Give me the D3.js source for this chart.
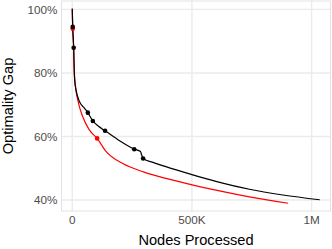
<!DOCTYPE html>
<html>
<head>
<meta charset="utf-8">
<script src="https://cdn.jsdelivr.net/npm/d3@7"></script>
<style>
  body { margin: 0; background: #fff; }
  text { font-family: "Liberation Sans", Arial, sans-serif; }
</style>
</head>
<body>
<svg id="chart" width="332" height="249"></svg>
<script>
// nodes processed (thousands) / optimality gap (%)
var blackNodes = [0, 2, 6, 8, 10, 16, 30, 50, 65, 86, 110, 137, 199, 259, 285, 290, 296, 340, 391, 500, 600, 740, 880, 1034];
var blackGap   = [100.3, 94.5, 87.9, 81, 77.8, 74.6, 71, 69, 67.5, 64.9, 63.2, 61.8, 58.6, 56, 55.3, 54.2, 53.1, 51.8, 50.5, 48.0, 45.9, 43.4, 41.6, 40.1];
var redNodes = [0, 2, 6, 9, 12, 23, 44, 72, 104, 140, 213, 300, 391, 500, 600, 740, 902];
var redGap   = [100, 93.9, 87.5, 80, 76.8, 71.5, 66.2, 62, 59.4, 55.4, 51.4, 48.8, 46.8, 44.8, 43.1, 41.0, 39.0];
var blackPtNodes = [2, 6, 65, 86, 137, 259, 296];
var blackPtGap   = [94.5, 87.9, 67.5, 64.9, 61.8, 56, 53.1];
var redPtNodes = [2, 104];
var redPtGap   = [93.9, 59.4];
var xTicks = [0, 500000, 1000000];
var xTickLabels = ["0", "500K", "1M"];
var yTicks = [0.4, 0.6, 0.8, 1.0];
var yTickLabels = ["40%", "60%", "80%", "100%"];

var svg = d3.select("#chart");
var pLeft = 61, pRight = 331, pTop = 0.5, pBottom = 211.5;

var x = d3.scaleLinear().domain([-47000, 1081000]).range([pLeft, pRight]);
var y = d3.scaleLinear().domain([0.364, 1.028]).range([pBottom, pTop]);

function zip(xs, ys) {
  return xs.map(function(v, i) { return {n: v * 1000, g: ys[i] / 100}; });
}

// grid
svg.append("g").selectAll("line").data(yTicks).enter().append("line")
  .attr("x1", pLeft).attr("x2", pRight)
  .attr("y1", function(d){ return y(d); }).attr("y2", function(d){ return y(d); })
  .attr("stroke", "#ebebeb").attr("stroke-width", 1.4);
svg.append("g").selectAll("line").data(xTicks).enter().append("line")
  .attr("y1", pTop).attr("y2", pBottom)
  .attr("x1", function(d){ return x(d); }).attr("x2", function(d){ return x(d); })
  .attr("stroke", "#ebebeb").attr("stroke-width", 1.4);

svg.append("rect")
  .attr("x", pLeft + 0.5).attr("y", pTop + 0.5)
  .attr("width", pRight - pLeft - 1).attr("height", pBottom - pTop - 1)
  .attr("fill", "none").attr("stroke", "#e3e3e3").attr("stroke-width", 1);

// tick labels
svg.append("g").selectAll("text").data(yTicks).enter().append("text")
  .attr("x", 57.3).attr("y", function(d){ return y(d) + 4.2; })
  .attr("text-anchor", "end").attr("font-size", "11.7px").attr("fill", "#4d4d4d")
  .text(function(d, i){ return yTickLabels[i]; });
svg.append("g").selectAll("text").data(xTicks).enter().append("text")
  .attr("x", function(d){ return x(d); }).attr("y", 224)
  .attr("text-anchor", "middle").attr("font-size", "11.7px").attr("fill", "#4d4d4d")
  .text(function(d, i){ return xTickLabels[i]; });

// axis titles
svg.append("text")
  .attr("x", (pLeft + pRight) / 2).attr("y", 244.5)
  .attr("text-anchor", "middle").attr("font-size", "14.6px").attr("fill", "#000")
  .text("Nodes Processed");
svg.append("text")
  .attr("transform", "translate(12.7," + ((pTop + pBottom) / 2) + ") rotate(-90)")
  .attr("text-anchor", "middle").attr("font-size", "14.6px").attr("fill", "#000")
  .text("Optimality Gap");

var line = d3.line()
  .x(function(d){ return x(d.n); })
  .y(function(d){ return y(d.g); })
  .curve(d3.curveMonotoneX);

svg.append("path").datum(zip(redNodes, redGap))
  .attr("d", line).attr("fill", "none").attr("stroke", "#ff0000").attr("stroke-width", 1.2);
svg.append("path").datum(zip(blackNodes, blackGap))
  .attr("d", line).attr("fill", "none").attr("stroke", "#000").attr("stroke-width", 1.2);

svg.append("g").selectAll("circle").data(zip(redPtNodes, redPtGap)).enter().append("circle")
  .attr("cx", function(d){ return x(d.n); }).attr("cy", function(d){ return y(d.g); })
  .attr("r", 2.3).attr("fill", "#ff0000");
svg.append("g").selectAll("circle").data(zip(blackPtNodes, blackPtGap)).enter().append("circle")
  .attr("cx", function(d){ return x(d.n); }).attr("cy", function(d){ return y(d.g); })
  .attr("r", 2.3).attr("fill", "#000");
</script>
</body>
</html>
